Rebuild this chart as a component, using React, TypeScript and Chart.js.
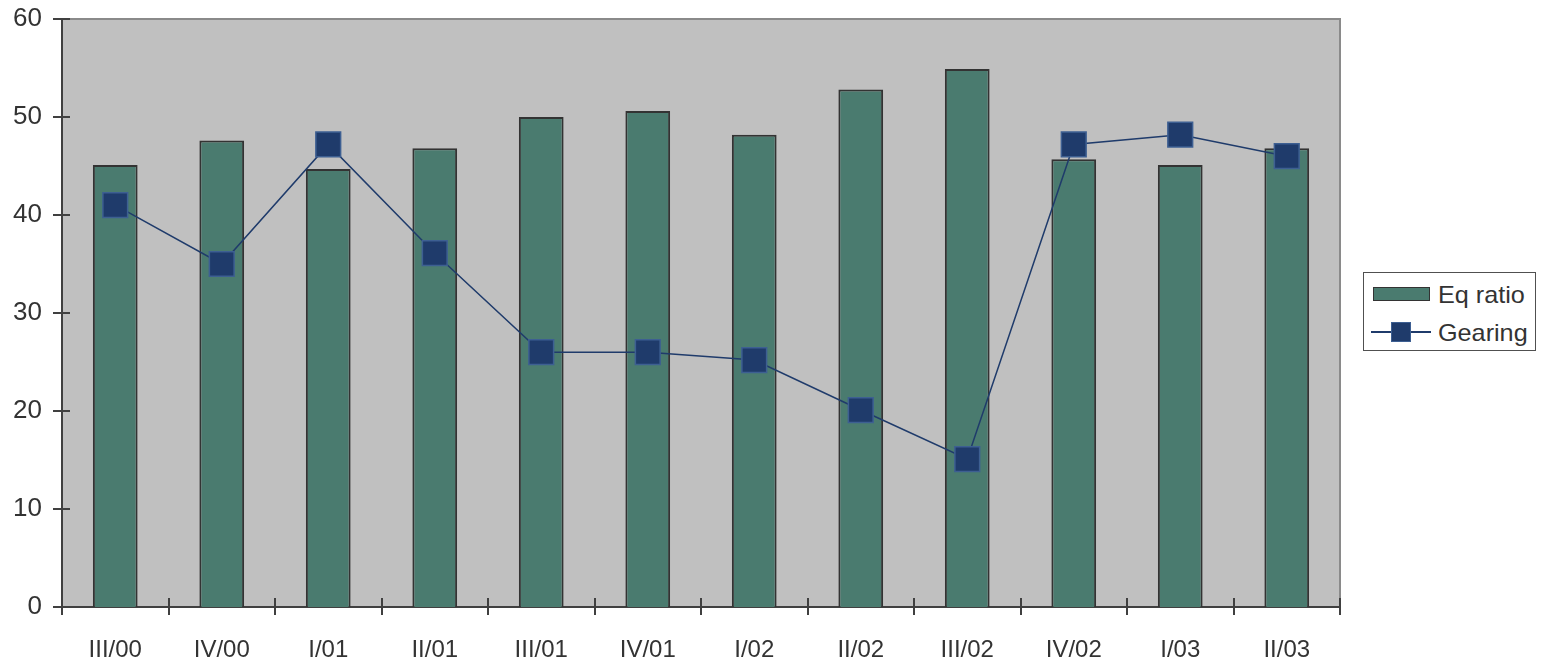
import React, { useEffect, useRef } from "react";
import { Chart, registerables } from "chart.js";

Chart.register(...registerables);

const categories = ["III/00", "IV/00", "I/01", "II/01", "III/01", "IV/01", "I/02", "II/02", "III/02", "IV/02", "I/03", "II/03"];
const eqRatio = [45.1, 47.6, 44.7, 46.8, 50.0, 50.6, 48.2, 52.8, 54.9, 45.7, 45.1, 46.8];
const gearing = [41, 35, 47.2, 36.1, 26, 26, 25.2, 20.1, 15.1, 47.2, 48.2, 46];
const yTicks = [0, 10, 20, 30, 40, 50, 60];

const FONT = "'Liberation Sans', Arial, sans-serif";
const AXIS = "#404040";

const plotBg = {
  id: "plotBg",
  beforeDraw(chart: any) {
    const { ctx, chartArea } = chart;
    if (!chartArea) return;
    ctx.save();
    ctx.fillStyle = "#C0C0C0";
    ctx.fillRect(chartArea.left, chartArea.top, chartArea.right - chartArea.left, chartArea.bottom - chartArea.top);
    ctx.strokeStyle = "#8a8a8a";
    ctx.lineWidth = 2;
    ctx.beginPath();
    ctx.moveTo(chartArea.left, chartArea.top);
    ctx.lineTo(chartArea.right, chartArea.top);
    ctx.lineTo(chartArea.right, chartArea.bottom);
    ctx.stroke();
    ctx.restore();
  },
  afterDraw(chart: any) {
    const { ctx, chartArea, scales } = chart;
    ctx.save();
    ctx.strokeStyle = AXIS;
    ctx.lineWidth = 2;
    ctx.beginPath();
    const ys = scales.y;
    ys.ticks.forEach((t: any) => {
      const y = Math.round(ys.getPixelForValue(t.value));
      ctx.moveTo(chartArea.left - 9, y);
      ctx.lineTo(chartArea.left + 8, y);
    });
    const xs = scales.x;
    const n = categories.length;
    const step = xs.getPixelForValue(1) - xs.getPixelForValue(0);
    for (let i = 0; i <= n; i++) {
      const xr = Math.round(xs.getPixelForValue(0) - step / 2 + i * step);
      ctx.moveTo(xr, chartArea.bottom - 9);
      ctx.lineTo(xr, chartArea.bottom + 8);
    }
    ctx.stroke();
    ctx.restore();
  },
};

export default function App() {
  const ref = useRef<HTMLCanvasElement>(null);
  useEffect(() => {
    document.body.style.margin = "0";
    const chart = new Chart(ref.current as HTMLCanvasElement, {
      type: "bar",
      data: {
        labels: categories,
        datasets: [
          {
            type: "line",
            label: "Gearing",
            data: gearing,
            borderColor: "#1F3B6B",
            borderWidth: 1.5,
            backgroundColor: "#1F3B6B",
            pointStyle: "rect",
            pointRadius: 17.5,
            pointBorderColor: "#3D5F92",
            pointBorderWidth: 1.5,
            pointBackgroundColor: "#1F3B6B",
            order: 0,
          } as any,
          {
            type: "bar",
            label: "Eq ratio",
            data: eqRatio,
            backgroundColor: "#4A7B6F",
            borderColor: "#333333",
            borderWidth: 2,
            barPercentage: 0.42,
            categoryPercentage: 1,
            order: 1,
          },
        ],
      },
      options: {
        animation: false,
        responsive: false,
        maintainAspectRatio: false,
        layout: { padding: { top: 17, right: 206, left: 0, bottom: 0 } },
        plugins: { legend: { display: false }, tooltip: { enabled: false } },
        scales: {
          x: {
            offset: true,
            grid: { display: false, drawTicks: false, offset: true },
            border: { display: true, color: AXIS, width: 2 },
            ticks: { color: "#333", font: { family: FONT, size: 24 }, padding: 29, maxRotation: 0 },
            afterFit: (s: any) => { s.height = 57; s.paddingLeft = 0; s.paddingRight = 0; },
          },
          y: {
            min: 0,
            max: 60,
            afterBuildTicks: (s: any) => { s.ticks = yTicks.map((v) => ({ value: v })); },
            grid: { display: false, drawTicks: false },
            border: { display: true, color: AXIS, width: 2 },
            ticks: { color: "#333", font: { family: FONT, size: 26 }, padding: 20 },
            afterFit: (s: any) => { s.width = 62; s.paddingTop = 0; s.paddingBottom = 0; },
          },
        },
      } as any,
      plugins: [plotBg],
    });
    return () => chart.destroy();
  }, []);

  const txt: React.CSSProperties = {
    position: "absolute",
    left: 74,
    fontSize: 24,
    lineHeight: "24px",
    whiteSpace: "nowrap",
    transform: "scaleX(1.05)",
    transformOrigin: "left center",
  };

  return (
    <div style={{ position: "relative", width: 1546, height: 664 }}>
      <canvas ref={ref} width={1546} height={664} style={{ display: "block", width: 1546, height: 664 }} />
      <div
        style={{
          position: "absolute",
          left: 1363,
          top: 272,
          width: 173,
          height: 79,
          border: "1.5px solid #505050",
          background: "#fff",
          fontFamily: FONT,
          color: "#333",
          boxSizing: "border-box",
        }}
      >
        <div style={{ position: "absolute", left: 9, top: 14, width: 57, height: 14, background: "#4A7B6F", border: "1.5px solid #333", boxSizing: "border-box" }} />
        <div style={{ ...txt, top: 10 }}>Eq ratio</div>
        <div style={{ position: "absolute", left: 7, top: 58, width: 60, height: 2, background: "#1F3B6B" }} />
        <div style={{ position: "absolute", left: 27, top: 49, width: 20, height: 20, background: "#1F3B6B", border: "1.5px solid #3D5F92", boxSizing: "border-box" }} />
        <div style={{ ...txt, top: 48 }}>Gearing</div>
      </div>
    </div>
  );
}
